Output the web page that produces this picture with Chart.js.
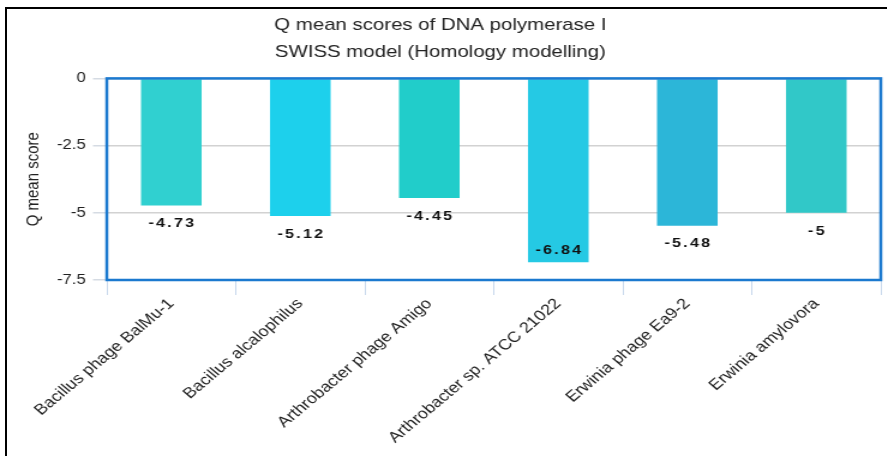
<!DOCTYPE html>
<html>
<head>
<meta charset="utf-8">
<script src="https://cdn.jsdelivr.net/npm/chart.js@4/dist/chart.umd.min.js"></script>
<style>
  html, body { margin: 0; padding: 0; background: #fff; }
  #wrap { position: relative; width: 887px; height: 456px; overflow: hidden; }
  #frame { position: absolute; left: 5px; top: 7px; width: 900px; height: 460px;
           border-left: 2px solid #000; border-top: 2px solid #000; }
  /* the figure is drawn narrow and widened to the full 887px */
  #stretch { position: absolute; left: 0; top: 0; width: 739px; height: 456px;
             transform: scaleX(1.2); transform-origin: 0 0; }
</style>
</head>
<body>
<div id="wrap">
  <div id="frame"></div>
  <div id="stretch"><canvas id="chart" width="739" height="456"></canvas></div>
</div>
<script>
// Q mean scores per organism
const organisms = [
  'Bacillus phage BalMu-1',
  'Bacillus alcalophilus',
  'Arthrobacter phage Amigo',
  'Arthrobacter sp. ATCC 21022',
  'Erwinia phage Ea9-2',
  'Erwinia amylovora'
];
const qMeanScores = [-4.73, -5.12, -4.45, -6.84, -5.48, -5];
const barColors = ['#30d0d0', '#1dd0ec', '#21cdca', '#25c9e4', '#2cb6d8', '#31c8c8'];
const yTicks = [0, -2.5, -5, -7.5];

const FONT = '"Liberation Sans", Arial, sans-serif';

// Blue frame around the plotting area
const plotBorder = {
  id: 'plotBorder',
  afterDatasetsDraw(chart) {
    const { ctx, chartArea: a } = chart;
    ctx.save();
    ctx.strokeStyle = '#1b79cf';
    ctx.lineWidth = 2.5;
    ctx.strokeRect(a.left, a.top, a.right - a.left, a.bottom - a.top);
    ctx.restore();
  }
};

// Value labels under each bar end (kept inside the plot near the bottom)
const valueLabels = {
  id: 'valueLabels',
  afterDraw(chart) {
    const { ctx, chartArea: a } = chart;
    const meta = chart.getDatasetMeta(0);
    ctx.save();
    ctx.font = 'bold 13.5px ' + FONT;
    ctx.fillStyle = '#111';
    ctx.textAlign = 'center';
    ctx.textBaseline = 'middle';
    const spacing = 1.8;
    if ('letterSpacing' in ctx) ctx.letterSpacing = spacing + 'px';
    meta.data.forEach((bar, i) => {
      let y = bar.y + 18;
      if (y + 10 > a.bottom) y = bar.y - 12;
      ctx.fillText(String(qMeanScores[i]), bar.x + spacing / 2, y);
    });
    ctx.restore();
  }
};

new Chart(document.getElementById('chart'), {
  type: 'bar',
  data: {
    labels: organisms,
    datasets: [{
      data: qMeanScores,
      backgroundColor: barColors,
      borderWidth: 0,
      barPercentage: 0.47,
      categoryPercentage: 1
    }]
  },
  options: {
    responsive: false,
    animation: false,
    devicePixelRatio: 1,
    layout: { padding: { left: 0, right: 5, top: 0, bottom: 0 } },
    plugins: {
      legend: { display: false },
      tooltip: { enabled: false },
      title: {
        display: true,
        text: ['Q mean scores of DNA polymerase I', 'SWISS model (Homology modelling)'],
        color: '#222',
        font: { family: FONT, size: 17, weight: 'normal', lineHeight: 1.6 },
        padding: { top: 12, bottom: 12 }
      }
    },
    scales: {
      x: {
        grid: {
          offset: true,
          drawOnChartArea: false,
          drawTicks: true,
          tickLength: 15,
          color: '#c9d9ec'
        },
        border: { display: false },
        ticks: {
          color: '#222',
          font: { family: FONT, size: 15 },
          minRotation: 45,
          maxRotation: 45,
          autoSkip: false,
          padding: 0
        },
        afterFit(scale) { scale.height = 176; }
      },
      y: {
        min: -7.5,
        max: 0,
        afterBuildTicks(scale) { scale.ticks = yTicks.map(v => ({ value: v })); },
        grid: {
          color: '#d2d2d2',
          lineWidth: 1.5,
          drawTicks: true,
          tickLength: 11.5,
          tickColor: '#d5dbe3'
        },
        border: { display: false },
        ticks: {
          color: '#222',
          font: { family: FONT, size: 14 },
          padding: 6
        },
        title: {
          display: true,
          text: 'Q mean score',
          color: '#222',
          font: { family: FONT, size: 15 },
          padding: { top: 18.5, bottom: 0 }
        },
        afterFit(scale) { scale.width = 89; }
      }
    }
  },
  plugins: [plotBorder, valueLabels]
});
</script>
</body>
</html>
